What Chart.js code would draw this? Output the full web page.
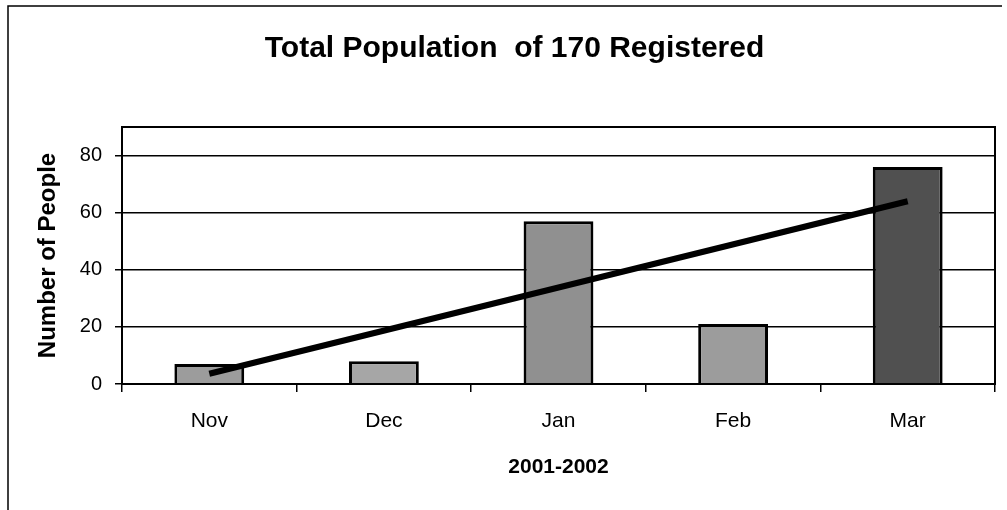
<!DOCTYPE html>
<html>
<head>
<meta charset="utf-8">
<script src="https://cdn.jsdelivr.net/npm/chart.js@4"></script>
<style>
  html,body{margin:0;padding:0;background:#fff;}
  #wrap{width:1007px;height:510px;}
</style>
</head>
<body>
<div id="wrap"><canvas id="c" width="1007" height="510"></canvas></div>
<script>
const categories = ["Nov", "Dec", "Jan", "Feb", "Mar"];
const registered = [7, 8, 57, 21, 76];
const trendValues = [3.6, null, null, null, 64];
const yTicks = [0, 20, 40, 60, 80];
const barColors = ["#9c9c9c", "#a6a6a6", "#909090", "#9c9c9c", "#505050"];

const framePlugin = {
  id: 'frame',
  afterDraw(chart) {
    const ctx = chart.ctx, a = chart.chartArea;
    ctx.save();
    ctx.strokeStyle = '#000';
    ctx.lineWidth = 2;
    ctx.strokeRect(a.left, a.top, a.right - a.left, a.bottom - a.top);
    ctx.lineWidth = 1.5;
    ctx.beginPath();
    ctx.moveTo(8, 510);
    ctx.lineTo(8, 6);
    ctx.lineTo(1002, 6);
    ctx.stroke();
    ctx.restore();
  }
};

new Chart(document.getElementById('c'), {
  type: 'bar',
  data: {
    labels: categories,
    datasets: [
      {
        type: 'line',
        data: trendValues,
        spanGaps: true,
        borderColor: '#000',
        borderWidth: 6,
        pointRadius: 0,
        order: 0
      },
      {
        data: registered,
        backgroundColor: barColors,
        borderColor: '#000',
        borderWidth: 3,
        barPercentage: 0.8,
        categoryPercentage: 0.5,
        order: 1
      }
    ]
  },
  options: {
    responsive: false,
    animation: false,
    layout: { padding: { left: 34, right: 12, top: 0, bottom: 0 } },
    plugins: {
      legend: { display: false },
      tooltip: { enabled: false },
      title: {
        display: true,
        text: 'Total Population  of 170 Registered',
        color: '#000',
        font: { family: 'Arial, "Liberation Sans", sans-serif', size: 30, weight: 'bold' },
        padding: { top: 31, bottom: 60 }
      }
    },
    scales: {
      x: {
        afterFit(s) { s.height = 126; },
        grid: { display: true, drawOnChartArea: false, offset: true, tickLength: 8, color: '#000', lineWidth: 1.5 },
        border: { color: '#000', width: 2 },
        ticks: {
          color: '#000', padding: 17,
          font: { family: 'Arial, "Liberation Sans", sans-serif', size: 21 }
        },
        title: {
          display: true, text: '2001-2002', color: '#000',
          font: { family: 'Arial, "Liberation Sans", sans-serif', size: 21, weight: 'bold' },
          padding: { top: 4, bottom: 30 }
        }
      },
      y: {
        min: 0, max: 90,
        afterFit(s) { s.width = 88; },
        afterBuildTicks(s) { s.ticks = yTicks.map(v => ({ value: v })); },
        grid: { color: '#000', lineWidth: 1.5, tickLength: 7 },
        border: { color: '#000', width: 2 },
        ticks: {
          color: '#000', padding: 13,
          font: { family: 'Arial, "Liberation Sans", sans-serif', size: 20 }
        },
        title: {
          display: true, text: 'Number of People', color: '#000',
          font: { family: 'Arial, "Liberation Sans", sans-serif', size: 24, weight: 'bold' },
          padding: { top: 0, bottom: 0 }
        }
      }
    }
  },
  plugins: [framePlugin]
});
</script>
</body>
</html>
